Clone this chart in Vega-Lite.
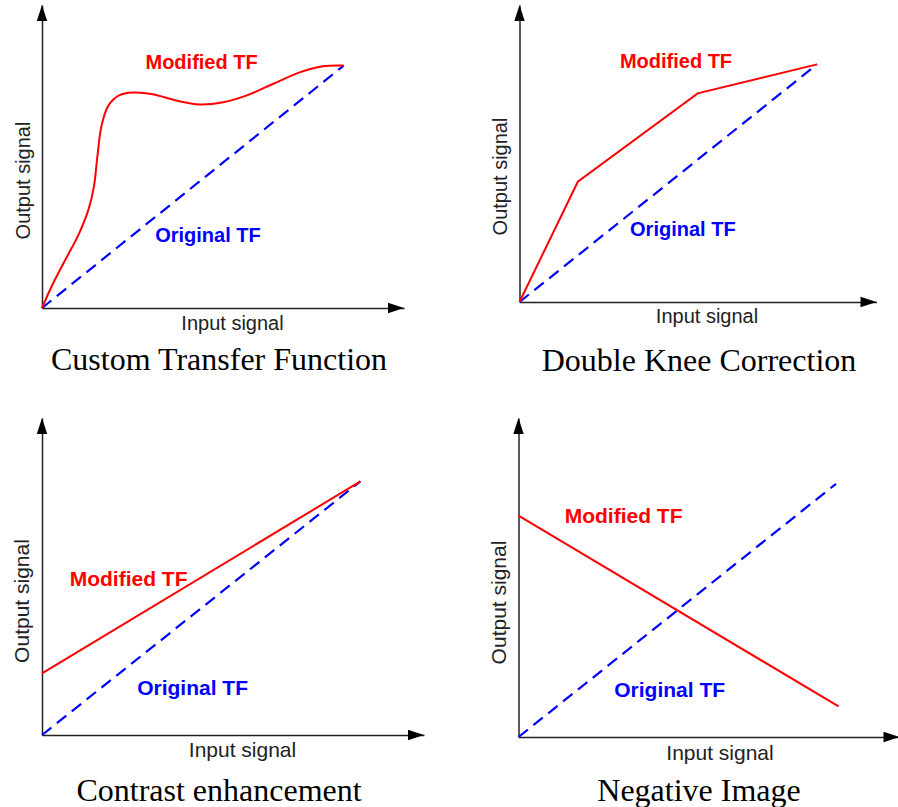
{
  "$schema": "https://vega.github.io/schema/vega-lite/v6.json",
  "padding": {"left": 11, "top": 5, "right": 0, "bottom": 0},
  "spacing": 40,
  "config": {
    "view": {"stroke": null},
    "axis": {"domainColor": "#222", "domainWidth": 1.5, "ticks": false, "labels": false, "grid": false, "titleFont": "Liberation Sans", "titleFontSize": 20, "titleFontWeight": "normal", "titleColor": "#222", "titleBaseline": "middle", "titleAlign": "center", "titlePadding": 0},
    "title": {"font": "Liberation Serif", "fontSize": 32, "fontWeight": "normal", "color": "#000", "orient": "bottom", "frame": "group", "anchor": "middle"},
    "text": {"font": "Liberation Sans", "fontSize": 20, "fontWeight": "bold", "align": "center", "baseline": "middle"}
  },
  "vconcat": [
    {
      "spacing": 86.5,
      "hconcat": [
        {
          "width": 362, "height": 303,
          "title": {"text": "Custom Transfer Function", "dx": -4, "offset": 12},
          "encoding": {
            "x": {"field": "x", "type": "quantitative", "scale": {"domain": [0, 1.2]}, "axis": {"title": "Input signal", "titleX": 190, "titleY": 15}},
            "y": {"field": "y", "type": "quantitative", "scale": {"domain": [0, 1.25]}, "axis": {"title": "Output signal", "titleX": -18.6, "titleY": 175}}
          },
          "layer": [
            {
              "data": {"values": [
                {"series": "Original TF", "x": 0, "y": 0},
                {"series": "Original TF", "x": 1, "y": 1}
              ]},
              "mark": {"type": "line", "strokeWidth": 2.2, "strokeDash": [12, 7], "color": "#0000ff"}
            },
            {
              "data": {"values": [
                {"series": "Modified TF", "x": 0, "y": 0},
                {"series": "Modified TF", "x": 0.033, "y": 0.092},
                {"series": "Modified TF", "x": 0.08, "y": 0.205},
                {"series": "Modified TF", "x": 0.122, "y": 0.305},
                {"series": "Modified TF", "x": 0.155, "y": 0.41},
                {"series": "Modified TF", "x": 0.172, "y": 0.5},
                {"series": "Modified TF", "x": 0.184, "y": 0.63},
                {"series": "Modified TF", "x": 0.197, "y": 0.75},
                {"series": "Modified TF", "x": 0.22, "y": 0.835},
                {"series": "Modified TF", "x": 0.257, "y": 0.878},
                {"series": "Modified TF", "x": 0.301, "y": 0.889},
                {"series": "Modified TF", "x": 0.367, "y": 0.882},
                {"series": "Modified TF", "x": 0.445, "y": 0.856},
                {"series": "Modified TF", "x": 0.522, "y": 0.84},
                {"series": "Modified TF", "x": 0.6, "y": 0.849},
                {"series": "Modified TF", "x": 0.677, "y": 0.876},
                {"series": "Modified TF", "x": 0.765, "y": 0.924},
                {"series": "Modified TF", "x": 0.854, "y": 0.972},
                {"series": "Modified TF", "x": 0.931, "y": 0.997},
                {"series": "Modified TF", "x": 1, "y": 1}
              ]},
              "mark": {"type": "line", "strokeWidth": 2, "color": "#ff0000", "interpolate": "catmull-rom"}
            },
            {
              "data": {"values": [
                {"label": "Modified TF", "x": 0.529, "y": 1.011},
                {"label": "Original TF", "x": 0.55, "y": 0.299}
              ]},
              "mark": {"type": "text"},
              "encoding": {
                "text": {"field": "label"},
                "color": {"field": "label", "type": "nominal", "scale": {"domain": ["Modified TF", "Original TF"], "range": ["#ff0000", "#0000ff"]}, "legend": null}
              }
            },
            {
              "data": {"values": [
                {"dir": "right", "x": 1.2, "y": 0},
                {"dir": "up", "x": 0, "y": 1.25}
              ]},
              "mark": {"type": "point", "filled": true, "color": "#000", "opacity": 1, "size": 256},
              "encoding": {
                "shape": {"field": "dir", "type": "nominal", "scale": {"domain": ["right", "up"], "range": ["M0,0L-2,-0.65L-2,0.65Z", "M0,0L-0.65,2L0.65,2Z"]}, "legend": null}
              }
            }
          ]
        },
        {
          "width": 357, "height": 297,
          "title": {"text": "Double Knee Correction", "dx": 1, "offset": 20},
          "encoding": {
            "x": {"field": "x", "type": "quantitative", "scale": {"domain": [0, 1.2]}, "axis": {"title": "Input signal", "titleX": 187, "titleY": 14.3}},
            "y": {"field": "y", "type": "quantitative", "scale": {"domain": [0, 1.25]}, "axis": {"title": "Output signal", "titleX": -18.6, "titleY": 171}}
          },
          "layer": [
            {
              "data": {"values": [
                {"series": "Original TF", "x": 0, "y": 0},
                {"series": "Original TF", "x": 1, "y": 1}
              ]},
              "mark": {"type": "line", "strokeWidth": 2.2, "strokeDash": [12, 7], "color": "#0000ff"}
            },
            {
              "data": {"values": [
                {"series": "Modified TF", "x": 0, "y": 0},
                {"series": "Modified TF", "x": 0.196, "y": 0.506},
                {"series": "Modified TF", "x": 0.599, "y": 0.878},
                {"series": "Modified TF", "x": 1, "y": 1}
              ]},
              "mark": {"type": "line", "strokeWidth": 2, "color": "#ff0000"}
            },
            {
              "data": {"values": [
                {"label": "Modified TF", "x": 0.526, "y": 1.008},
                {"label": "Original TF", "x": 0.549, "y": 0.305}
              ]},
              "mark": {"type": "text"},
              "encoding": {
                "text": {"field": "label"},
                "color": {"field": "label", "type": "nominal", "scale": {"domain": ["Modified TF", "Original TF"], "range": ["#ff0000", "#0000ff"]}, "legend": null}
              }
            },
            {
              "data": {"values": [
                {"dir": "right", "x": 1.2, "y": 0},
                {"dir": "up", "x": 0, "y": 1.25}
              ]},
              "mark": {"type": "point", "filled": true, "color": "#000", "opacity": 1, "size": 256},
              "encoding": {
                "shape": {"field": "dir", "type": "nominal", "scale": {"domain": ["right", "up"], "range": ["M0,0L-2,-0.65L-2,0.65Z", "M0,0L-0.65,2L0.65,2Z"]}, "legend": null}
              }
            }
          ]
        }
      ]
    },
    {
      "spacing": 64.5,
      "hconcat": [
        {
          "width": 382, "height": 317,
          "title": {"text": "Contrast enhancement", "dx": -14, "offset": 15},
          "encoding": {
            "x": {"field": "x", "type": "quantitative", "scale": {"domain": [0, 1.2]}, "axis": {"title": "Input signal", "titleFontSize": 21, "titleX": 200, "titleY": 15.7}},
            "y": {"field": "y", "type": "quantitative", "scale": {"domain": [0, 1.25]}, "axis": {"title": "Output signal", "titleFontSize": 21, "titleX": -19.3, "titleY": 182.5}}
          },
          "layer": [
            {
              "data": {"values": [
                {"series": "Original TF", "x": 0, "y": 0},
                {"series": "Original TF", "x": 1, "y": 1}
              ]},
              "mark": {"type": "line", "strokeWidth": 2.2, "strokeDash": [12, 7], "color": "#0000ff"}
            },
            {
              "data": {"values": [
                {"series": "Modified TF", "x": 0, "y": 0.243},
                {"series": "Modified TF", "x": 1, "y": 1}
              ]},
              "mark": {"type": "line", "strokeWidth": 2, "color": "#ff0000"}
            },
            {
              "data": {"values": [
                {"label": "Modified TF", "x": 0.272, "y": 0.61},
                {"label": "Original TF", "x": 0.473, "y": 0.18}
              ]},
              "mark": {"type": "text", "fontSize": 21},
              "encoding": {
                "text": {"field": "label"},
                "color": {"field": "label", "type": "nominal", "scale": {"domain": ["Modified TF", "Original TF"], "range": ["#ff0000", "#0000ff"]}, "legend": null}
              }
            },
            {
              "data": {"values": [
                {"dir": "right", "x": 1.2, "y": 0},
                {"dir": "up", "x": 0, "y": 1.25}
              ]},
              "mark": {"type": "point", "filled": true, "color": "#000", "opacity": 1, "size": 256},
              "encoding": {
                "shape": {"field": "dir", "type": "nominal", "scale": {"domain": ["right", "up"], "range": ["M0,0L-2,-0.65L-2,0.65Z", "M0,0L-0.65,2L0.65,2Z"]}, "legend": null}
              }
            }
          ]
        },
        {
          "width": 381, "height": 319,
          "title": {"text": "Negative Image", "dx": -10, "offset": 12},
          "encoding": {
            "x": {"field": "x", "type": "quantitative", "scale": {"domain": [0, 1.2]}, "axis": {"title": "Input signal", "titleFontSize": 21, "titleX": 201, "titleY": 16.7}},
            "y": {"field": "y", "type": "quantitative", "scale": {"domain": [0, 1.26]}, "axis": {"title": "Output signal", "titleFontSize": 21, "titleX": -19, "titleY": 184}}
          },
          "layer": [
            {
              "data": {"values": [
                {"series": "Original TF", "x": 0, "y": 0},
                {"series": "Original TF", "x": 1, "y": 1}
              ]},
              "mark": {"type": "line", "strokeWidth": 2.2, "strokeDash": [12, 7], "color": "#0000ff"}
            },
            {
              "data": {"values": [
                {"series": "Modified TF", "x": 0, "y": 0.874},
                {"series": "Modified TF", "x": 1.008, "y": 0.121}
              ]},
              "mark": {"type": "line", "strokeWidth": 2, "color": "#ff0000"}
            },
            {
              "data": {"values": [
                {"label": "Modified TF", "x": 0.331, "y": 0.868},
                {"label": "Original TF", "x": 0.476, "y": 0.18}
              ]},
              "mark": {"type": "text", "fontSize": 21},
              "encoding": {
                "text": {"field": "label"},
                "color": {"field": "label", "type": "nominal", "scale": {"domain": ["Modified TF", "Original TF"], "range": ["#ff0000", "#0000ff"]}, "legend": null}
              }
            },
            {
              "data": {"values": [
                {"dir": "right", "x": 1.2, "y": 0},
                {"dir": "up", "x": 0, "y": 1.26}
              ]},
              "mark": {"type": "point", "filled": true, "color": "#000", "opacity": 1, "size": 256},
              "encoding": {
                "shape": {"field": "dir", "type": "nominal", "scale": {"domain": ["right", "up"], "range": ["M0,0L-2,-0.65L-2,0.65Z", "M0,0L-0.65,2L0.65,2Z"]}, "legend": null}
              }
            }
          ]
        }
      ]
    }
  ]
}
